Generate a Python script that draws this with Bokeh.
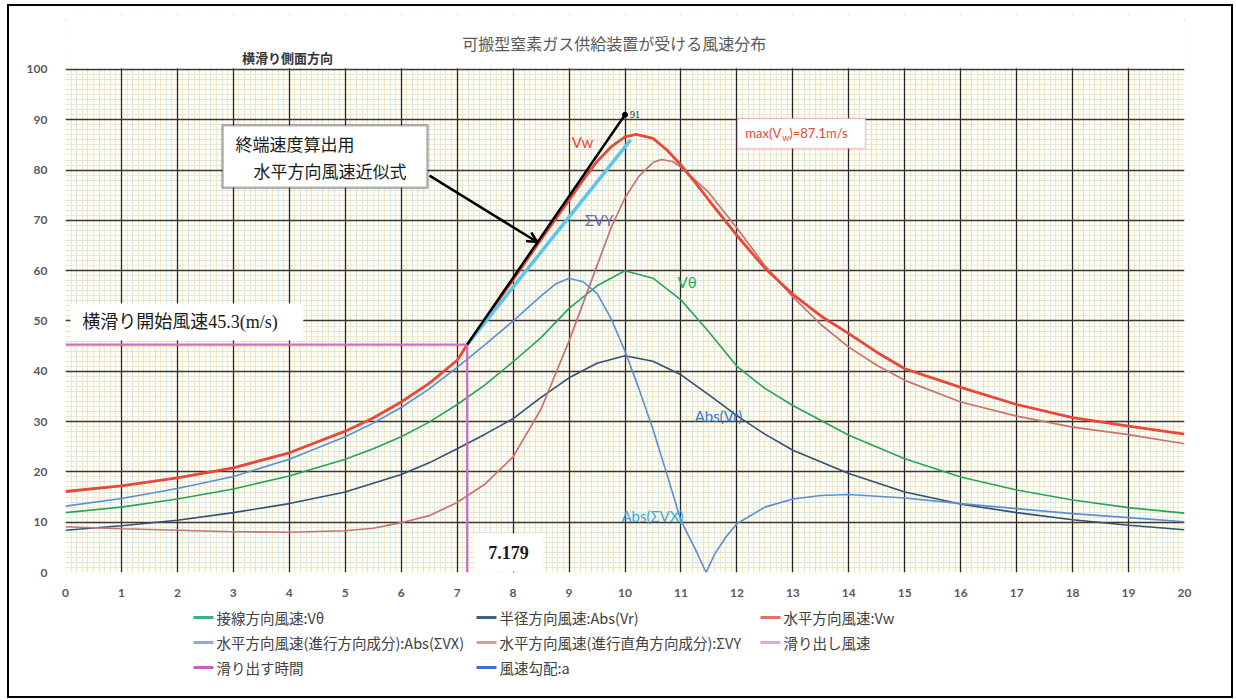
from bokeh.plotting import figure
from bokeh.layouts import column
from bokeh.models import (Range1d, Grid, SingleIntervalTicker, FixedTicker, Label,
                          BoxAnnotation, Arrow, OpenHead)
from bokeh.core.properties import value
from bokeh.embed import file_html
from bokeh.resources import INLINE

# ---------------- data ----------------
vt_x = [0, 1, 2, 3, 4, 5, 5.5, 6, 6.5, 7, 7.5, 8, 8.5, 9, 9.5, 10, 10.5, 11, 11.5, 12,
        12.5, 13, 14, 15, 16, 17, 18, 19, 20]
vt_y = [11.9, 13.0, 14.6, 16.6, 19.2, 22.5, 24.6, 27.0, 29.9, 33.4, 37.3, 41.9, 46.7, 52.5,
        57.0, 60.0, 58.5, 54.2, 47.8, 41.0, 36.6, 33.2, 27.3, 22.6, 19.0, 16.4, 14.4, 12.9, 11.8]

vr_x = [0, 1, 2, 3, 4, 5, 6, 6.5, 7, 7.5, 8, 8.5, 9, 9.5, 10, 10.5, 11, 11.5, 12, 12.5,
        13, 14, 15, 16, 17, 18, 19, 20]
vr_y = [8.4, 9.3, 10.4, 11.9, 13.7, 16.0, 19.5, 21.8, 24.6, 27.5, 30.6, 34.8, 38.7, 41.6,
        43.1, 42.0, 39.3, 35.3, 31.2, 27.5, 24.3, 19.7, 16.0, 13.6, 11.9, 10.5, 9.4, 8.5]

vw_x = [0, 1, 2, 3, 4, 5, 5.5, 6, 6.5, 7, 7.179, 7.5, 8, 8.5, 9, 9.25, 9.5, 9.75, 10, 10.2,
        10.5, 10.75, 11, 11.25, 11.5, 12, 12.5, 13, 13.5, 14, 14.5, 15, 16, 17, 18, 19, 20]
vw_y = [16.1, 17.2, 18.8, 20.8, 23.8, 28.1, 30.7, 33.9, 37.6, 42.2, 45.3, 50.3, 58.2, 66.2,
        74.0, 78.0, 81.7, 84.6, 86.6, 87.1, 86.3, 84.0, 81.0, 77.6, 74.0, 67.0, 60.5, 55.3,
        51.0, 47.5, 43.8, 40.5, 36.8, 33.4, 30.8, 29.1, 27.5]

svx_x = [0, 1, 2, 3, 4, 5, 5.5, 6, 6.5, 7, 7.5, 8, 8.5, 8.75, 9, 9.25, 9.5, 9.75, 10, 10.25,
         10.5, 10.75, 11, 11.25, 11.45, 11.6, 11.8, 12, 12.5, 13, 13.5, 14, 15, 16, 17, 18,
         19, 20]
svx_y = [13.2, 14.7, 16.7, 19.1, 22.5, 27.0, 29.7, 32.8, 36.5, 40.8, 45.3, 50.0, 55.0, 57.3,
         58.5, 57.8, 55.5, 50.5, 44.0, 36.5, 28.5, 19.5, 10.3, 4.8, 0.0, 3.6, 7.0, 9.7, 13.0,
         14.6, 15.3, 15.5, 14.8, 13.7, 12.7, 11.7, 10.9, 10.1]

svy_x = [0, 1, 2, 3, 4, 5, 5.5, 6, 6.5, 7, 7.5, 8, 8.5, 9, 9.25, 9.5, 9.75, 10, 10.25, 10.5,
         10.65, 10.85, 11, 11.5, 12, 12.5, 13, 13.5, 14, 14.5, 15, 16, 17, 18, 19, 20]
svy_y = [9.1, 8.7, 8.4, 8.1, 8.0, 8.3, 8.8, 9.9, 11.3, 13.9, 17.6, 23.0, 32.5, 46.0, 53.5,
         61.0, 68.5, 74.5, 78.8, 81.5, 82.1, 81.7, 80.6, 75.5, 68.5, 61.0, 54.8, 49.3, 44.8,
         41.2, 38.2, 33.9, 31.1, 28.9, 27.4, 25.6]

slip_time = 7.179
slip_speed = 45.3
tangent_x = [7.179, 10.0]
tangent_y = [45.3, 91.0]
approx_x = [7.179, 10.1]
approx_y = [45.3, 86.0]

y_ticks = [0, 10, 20, 30, 40, 50, 60, 70, 80, 90, 100]
title_text = "可搬型窒素ガス供給装置が受ける風速分布"
subtitle_text = "横滑り側面方向"
legend_labels = ["接線方向風速:Vθ", "半径方向風速:Abs(Vr)", "水平方向風速:Vw",
                 "水平方向風速(進行方向成分):Abs(ΣVX)", "水平方向風速(進行直角方向成分):ΣVY",
                 "滑り出し風速", "滑り出す時間", "風速勾配:a"]
legend_colors = ["#3cb07e", "#3d6485", "#e4705e", "#8caadf", "#dc9a94", "#e6a6dc",
                 "#cc5cc0", "#3a72c8"]

SERIF = "Liberation Serif, Noto Sans CJK JP"
CJK = "Noto Sans CJK JP"
FW = 1222  # inner width (2px border each side)
BL, BR = 56, 47

# ---------------- main chart ----------------
# frame: page y 14..572; value 100 sits at page y 69
p = figure(width=FW, height=594, output_backend="svg", toolbar_location=None,
           x_range=Range1d(0, 20), y_range=Range1d(0, 110.93),
           min_border_left=BL, min_border_right=BR, min_border_top=8, min_border_bottom=28)
p.outline_line_color = None
p.background_fill_color = "#fffdf4"
p.border_fill_color = "white"

for ax in (p.xaxis[0], p.yaxis[0]):
    ax.major_tick_line_color = None
    ax.minor_tick_line_color = None
    ax.axis_line_color = None
    ax.major_label_text_font = "Lato"
    ax.major_label_text_font_style = "bold"
    ax.major_label_text_font_size = "12px"
    ax.major_label_text_color = "#5a5a5a"
p.xaxis[0].ticker = SingleIntervalTicker(interval=1, num_minor_ticks=0)
p.yaxis[0].ticker = FixedTicker(ticks=y_ticks)
p.xaxis[0].major_label_standoff = 10
p.yaxis[0].major_label_standoff = 12

p.xgrid.grid_line_color = None
p.ygrid.grid_line_color = None
grids = [
    (0, 0.1, "#f0e8ca", 1), (0, 0.2, "#d5e6e1", 1),
    (1, 1, "#f0e8ca", 1), (1, 2, "#d5e6e1", 1),
    (0, 1, "#262626", 1.3), (1, 10, "#3a3636", 1.6),
]
for dim, iv, col, lw in grids:
    p.add_layout(Grid(dimension=dim, ticker=SingleIntervalTicker(interval=iv, num_minor_ticks=0),
                      grid_line_color=col, grid_line_width=lw))

p.line(vr_x, vr_y, color="#33506e", line_width=1.6)
p.line(vt_x, vt_y, color="#24a55a", line_width=1.6)
p.line(svy_x, svy_y, color="#c4756f", line_width=1.7)
p.line(svx_x, svx_y, color="#5b8fd3", line_width=1.6)
p.line(vw_x, vw_y, color="#e8473a", line_width=2.8)
p.line([0, slip_time], [slip_speed, slip_speed], color="#d36cc6", line_width=2.2)
p.line([slip_time, slip_time], [0, slip_speed], color="#d36cc6", line_width=2.2)
p.line(approx_x, approx_y, color="#5cc6e8", line_width=3.5)
p.line(tangent_x, tangent_y, color="black", line_width=2.5)
p.scatter([tangent_x[1]], [tangent_y[1]], size=5, color="black")

# white area above the 100 line (title zone)
p.add_layout(BoxAnnotation(bottom=100.25, fill_color="white", fill_alpha=1, line_color=None,
                           level="annotation"))
p.add_layout(Label(x=9.81, y=105.17, text=title_text, text_font=CJK, text_font_size="16px",
                   text_align="center", text_baseline="middle", text_color="#595959"))
p.add_layout(Label(x=3.97, y=102.4, text=subtitle_text, text_font=CJK, text_font_size="13px",
                   text_font_style="bold", text_align="center", text_baseline="middle",
                   text_color="#333333"))

p.add_layout(Label(x=tangent_x[1], y=tangent_y[1], x_offset=5, text="91", text_font=SERIF,
                   text_font_size="10px", text_baseline="middle", text_color="#222"))

# approximation box + arrow
p.add_layout(BoxAnnotation(left=2.806, right=6.47, bottom=76.5, top=88.9, fill_color="white",
                           fill_alpha=1, line_color="black", line_width=2.5, level="annotation"))
p.add_layout(Label(x=3.04, y=85.3, text="終端速度算出用", text_font=CJK, text_font_size="17px",
                   text_baseline="middle", text_color="#1a1a1a"))
p.add_layout(Label(x=3.36, y=79.9, text="水平方向風速近似式", text_font=CJK,
                   text_font_size="17px", text_baseline="middle", text_color="#1a1a1a"))
p.add_layout(Arrow(x_start=6.506, y_start=78.9, x_end=8.43, y_end=65.7, line_width=2.5,
                   line_color="black",
                   end=OpenHead(size=10, line_width=2.5, line_color="black")))

# slip speed box
p.add_layout(BoxAnnotation(left=0.09, right=4.25, bottom=46.1, top=53.5, fill_color="white",
                           fill_alpha=1, line_color=None, level="annotation"))
p.add_layout(Label(x=0.30, y=49.8, text="横滑り開始風速45.3(m/s)", text_font=SERIF,
                   text_font_size="18px", text_baseline="middle", text_color="#1a1a1a"))

# slip time box
p.add_layout(BoxAnnotation(left=7.29, right=8.54, bottom=0.2, top=7.75, fill_color="white",
                           fill_alpha=1, line_color=None, level="annotation"))
p.add_layout(Label(x=7.92, y=4.0, text="7.179", text_font=SERIF, text_font_size="18px",
                   text_font_style="bold", text_align="center", text_baseline="middle",
                   text_color="#1a1a1a"))

# max Vw box
p.add_layout(BoxAnnotation(left=12.01, right=14.30, bottom=84.3, top=90.26, fill_color="white",
                           fill_alpha=1, line_color="#e8605a", line_width=1.5, level="annotation"))
p.add_layout(Label(x=12.15, y=87.3, text="max(V", text_font="Lato", text_font_size="13px",
                   text_baseline="middle", text_color="#e8473a"))
p.add_layout(Label(x=12.15, y=87.3, x_offset=37, y_offset=-4, text="w", text_font="Lato",
                   text_font_size="9px", text_baseline="middle", text_color="#e8473a"))
p.add_layout(Label(x=12.15, y=87.3, x_offset=44, text=")=87.1m/s", text_font="Lato",
                   text_font_size="13px", text_baseline="middle", text_color="#e8473a"))

for x, y, t, c in [(9.24, 85.5, "Vw", "#e8473a"), (9.54, 70.1, "ΣVY", "#6b63aa"),
                   (11.11, 57.8, "Vθ", "#24a55a"), (11.67, 31.1, "Abs(Vr)", "#3b78c0"),
                   (10.49, 11.2, "Abs(ΣVX)", "#3aa8da")]:
    p.add_layout(Label(x=x, y=y, text=t, text_font="Lato", text_font_size="15px",
                       text_align="center", text_baseline="middle", text_color=c))

# ---------------- legend strip (frame aligned with the chart frame) ----------------
leg = figure(width=FW, height=96, output_backend="svg", toolbar_location=None,
             x_range=Range1d(BL, FW - BR), y_range=Range1d(96, 0),
             min_border_left=BL, min_border_right=BR, min_border_top=0, min_border_bottom=0,
             x_axis_type=None, y_axis_type=None)
leg.outline_line_color = None
leg.background_fill_color = "white"
leg.border_fill_color = "white"
col_x = [184, 467, 751]
row_y = [17, 42, 67]
lx0, lx1, ly, tx = [], [], [], []
for i in range(len(legend_labels)):
    r, c = divmod(i, 3)
    lx0.append(col_x[c])
    lx1.append(col_x[c] + 20)
    ly.append(row_y[r])
    tx.append(col_x[c] + 23)
leg.segment(x0=lx0, y0=ly, x1=lx1, y1=ly, color=legend_colors, line_width=3)
leg.text(x=tx, y=ly, text=legend_labels, text_font=value(CJK), text_font_size="14.5px",
         text_baseline="middle", text_color="#404040")

layout = column(p, leg, spacing=0,
                styles={"border": "2px solid black", "margin": "4px 0px 0px 7px"})
open("out.html", "w").write(file_html(layout, INLINE))
